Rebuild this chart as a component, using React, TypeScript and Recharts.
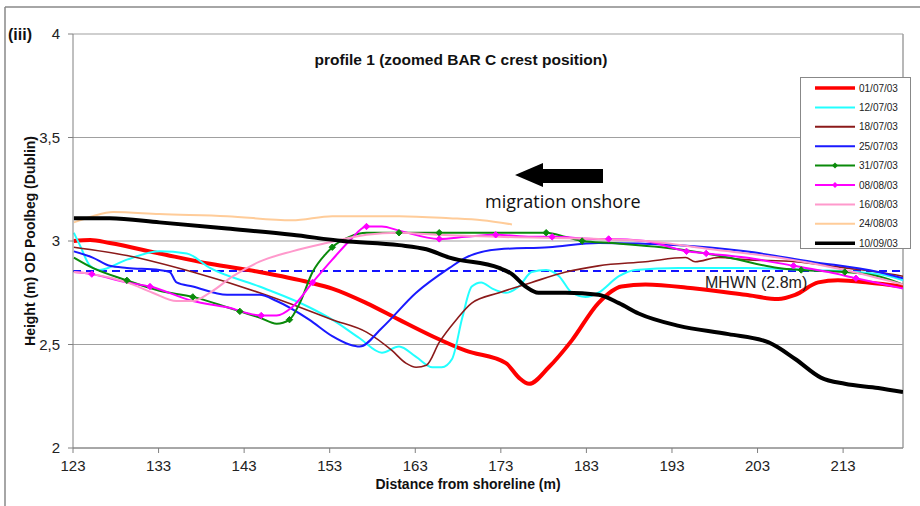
import React from 'react';
import { LineChart, Line, XAxis, YAxis, CartesianGrid, ReferenceLine } from 'recharts';

type P = [number, number, number?];

const xTicks = [123, 133, 143, 153, 163, 173, 183, 193, 203, 213];
const yTicks = [2, 2.5, 3, 3.5, 4];
const mhwnLevel = 2.855;

const s0107: P[] = [
  [123.1, 3.0], [125, 3.005], [127.3, 2.99], [133.1, 2.94], [139, 2.89], [144.8, 2.85], [150.6, 2.8],
  [153.3, 2.77], [157.3, 2.7], [161.1, 2.62], [165, 2.54], [168.9, 2.47], [173.6, 2.41], [175.1, 2.34],
  [176.3, 2.31], [178.6, 2.39], [181.3, 2.52], [184.4, 2.7], [187.1, 2.78], [189.9, 2.79], [195.7, 2.77],
  [201.6, 2.74], [205.4, 2.72], [207.4, 2.74], [210.1, 2.8], [212.4, 2.81], [215.9, 2.8], [220, 2.78],
];
const s1207: P[] = [
  [123.1, 3.04], [123.8, 2.98], [125, 2.88], [126.1, 2.86], [129.3, 2.91], [133.1, 2.95], [136.3, 2.94],
  [139, 2.87], [144.8, 2.78], [150.6, 2.68], [153.3, 2.62], [156.5, 2.53], [159.1, 2.46], [161.1, 2.49],
  [163.1, 2.44], [165, 2.39], [166.1, 2.39], [167.3, 2.43], [168.5, 2.63], [169.6, 2.78], [170.7, 2.8],
  [172, 2.77], [173.6, 2.75], [175.1, 2.78], [176.6, 2.85], [178.3, 2.86], [179.8, 2.83], [181.3, 2.75],
  [182.9, 2.73], [184.4, 2.75], [186.8, 2.83], [188.7, 2.86], [193.8, 2.87], [201.6, 2.87], [209.3, 2.86],
  [217.1, 2.84], [220, 2.81],
];
const s1807: P[] = [
  [123.1, 2.97], [129.3, 2.93], [137, 2.85], [144.8, 2.75], [149.5, 2.68], [153.3, 2.62], [157.3, 2.56],
  [160.3, 2.47], [161.9, 2.41], [163.1, 2.39], [164.3, 2.4], [165.8, 2.51], [167.8, 2.62], [169.6, 2.7],
  [172.8, 2.75], [176.6, 2.8], [180.6, 2.85], [184.4, 2.88], [189.9, 2.9], [194.6, 2.92], [195.7, 2.9],
  [198.4, 2.92], [201.6, 2.91], [207.4, 2.9], [213.2, 2.87], [217.1, 2.85], [220, 2.83],
];
const s2507: P[] = [
  [123.1, 2.95], [125.3, 2.92], [127.3, 2.88], [129.3, 2.87], [133.1, 2.86], [134.3, 2.85], [135.1, 2.8],
  [137, 2.78], [141, 2.74], [144.8, 2.74], [146.8, 2.71], [150.6, 2.62], [153.3, 2.54], [155.3, 2.5],
  [156.5, 2.49], [159.1, 2.58], [163.1, 2.75], [167, 2.87], [168.9, 2.92], [172.8, 2.96], [178.6, 2.97],
  [184.4, 2.99], [193.8, 2.98], [201.6, 2.95], [209.3, 2.9], [217.1, 2.85], [220, 2.82],
];
const s3107: P[] = [
  [123.1, 2.92], [125.3, 2.87], [129.3, 2.81, 1], [133.1, 2.76], [137, 2.73, 1], [141, 2.68], [142.5, 2.66, 1],
  [144.8, 2.63], [146.8, 2.6], [148.3, 2.62, 1], [149.5, 2.7], [151, 2.85], [152.6, 2.94], [153.3, 2.97, 1],
  [155.3, 3.02], [157.3, 3.04], [161.1, 3.04, 1], [165.8, 3.04, 1], [172.8, 3.04], [178.3, 3.04, 1],
  [180.6, 3.02], [182.5, 3.0, 1], [186, 2.99], [193.8, 2.96], [199.6, 2.92], [205.4, 2.87], [208.1, 2.86, 1],
  [213.2, 2.85, 1], [217.1, 2.83], [220, 2.79],
];
const s0808: P[] = [
  [123.1, 2.85], [125.2, 2.84, 1], [129.3, 2.8], [132, 2.78, 1], [137, 2.71], [141, 2.68], [145, 2.64, 1],
  [146.8, 2.64], [148.6, 2.68], [151, 2.8, 1], [153.3, 2.91], [155.3, 3.0], [157.3, 3.07, 1], [159.1, 3.07],
  [161.1, 3.05], [165.8, 3.01, 1], [168.9, 3.02], [172.4, 3.03, 1], [176.6, 3.02], [179, 3.02, 1],
  [184.4, 3.01], [185.6, 3.01, 1], [189.9, 3.0], [194.7, 2.95, 1], [197, 2.94, 1], [201.6, 2.92],
  [207.2, 2.88, 1], [211.3, 2.85], [214.5, 2.82, 1], [220, 2.77],
];
const s1608: P[] = [
  [123.1, 2.85], [125.3, 2.84], [129.3, 2.8], [132.3, 2.75], [135.1, 2.71], [137, 2.71], [139, 2.75],
  [141.7, 2.83], [144.8, 2.9], [148.6, 2.95], [152.6, 2.99], [157.3, 3.03], [161.1, 3.04], [165.8, 3.03],
  [172.8, 3.02], [184.4, 3.01], [189.9, 3.0], [197.6, 2.96], [205.4, 2.92], [213.2, 2.86], [220, 2.79],
];
const s2408: P[] = [
  [123.1, 3.09], [125.3, 3.12], [127.7, 3.14], [133.1, 3.13], [141, 3.12], [148.6, 3.1], [153.3, 3.12],
  [157.3, 3.12], [161.1, 3.12], [167, 3.11], [170.8, 3.1], [174.3, 3.08],
];
const s1009: P[] = [
  [123.1, 3.11], [127.3, 3.11], [133.1, 3.09], [141, 3.06], [148.6, 3.03], [154.5, 3.0], [161.1, 2.98],
  [164.3, 2.96], [167, 2.92], [172.8, 2.87], [174.3, 2.84], [175.9, 2.78], [177.4, 2.75], [180.6, 2.75],
  [184.4, 2.74], [186.8, 2.7], [189.1, 2.65], [193.8, 2.59], [199.6, 2.55], [204.3, 2.51], [207.4, 2.43],
  [210.4, 2.34], [213.2, 2.31], [217.1, 2.29], [220, 2.27],
];

const seriesNames = ['01/07/03', '12/07/03', '18/07/03', '25/07/03', '31/07/03', '08/08/03', '16/08/03', '24/08/03', '10/09/03'];
const seriesData = [s0107, s1207, s1807, s2507, s3107, s0808, s1608, s2408, s1009];
const seriesColors = ['#ff0000', '#22ffff', '#8b1a1a', '#1a1aff', '#0a8a0a', '#ff00ff', '#ff99cc', '#ffcc99', '#000000'];
const seriesWidths = [4, 2, 1.6, 2, 2, 2, 2, 2, 4];
const seriesMarkers = [false, false, false, false, true, true, false, false, false];

const FONT = '"Liberation Sans", Arial, sans-serif';

const toRows = (pts: P[]) => pts.map(([x, y, m]) => ({ x, y, m: !!m }));

const makeDot = (color: string) => (props: any) => {
  const { cx, cy, payload, index } = props;
  if (!payload || !payload.m || cx == null || cy == null) return <g key={`d${index}`} />;
  const r = 3.2;
  return (
    <path
      key={`d${index}`}
      d={`M${cx},${cy - r} L${cx + r},${cy} L${cx},${cy + r} L${cx - r},${cy} Z`}
      fill={color}
      stroke={color}
    />
  );
};

const fmtY = (v: number) => String(v).replace('.', ',');

export default function App() {
  return (
    <div style={{ position: 'absolute', left: 0, top: 0, width: 920, height: 506, background: '#fff' }}>
      <LineChart width={920} height={506} margin={{ top: 34, right: 17, left: 0, bottom: 28 }}>
        <CartesianGrid vertical={false} stroke="#a0a0a0" strokeWidth={1.2} />
        <XAxis
          dataKey="x"
          type="number"
          domain={[123, 220]}
          ticks={xTicks}
          interval={0}
          allowDataOverflow
          height={30}
          stroke="#808080"
          tickSize={5}
          tickMargin={7}
          tick={{ fill: '#222', fontSize: 15, fontFamily: FONT }}
        />
        <YAxis
          type="number"
          domain={[2, 4]}
          ticks={yTicks}
          interval={0}
          width={73}
          stroke="#808080"
          tickSize={5}
          tickMargin={8}
          tickFormatter={fmtY}
          tick={{ fill: '#222', fontSize: 15, fontFamily: FONT }}
        />
        <ReferenceLine x={220} stroke="#a0a0a0" strokeWidth={1.5} ifOverflow="extendDomain" />
        <ReferenceLine y={mhwnLevel} stroke="#1414ff" strokeWidth={2} strokeDasharray="8 5" />
        {seriesNames.map((name, i) => (
          <Line
            key={name}
            name={name}
            data={toRows(seriesData[i])}
            dataKey="y"
            type="monotone"
            stroke={seriesColors[i]}
            strokeWidth={seriesWidths[i]}
            dot={seriesMarkers[i] ? makeDot(seriesColors[i]) : false}
            activeDot={false}
            isAnimationActive={false}
          />
        ))}
      </LineChart>

      <svg
        width={920}
        height={506}
        style={{ position: 'absolute', left: 0, top: 0, pointerEvents: 'none' }}
      >
        <line x1={5} y1={7} x2={920} y2={7} stroke="#888" strokeWidth={1.5} />
        <line x1={5} y1={7} x2={5} y2={506} stroke="#888" strokeWidth={1.5} />
        <text x={8} y={40} fontFamily={FONT} fontWeight="bold" fontSize={16} fill="#111">(iii)</text>
        <text x={461} y={65} textAnchor="middle" fontFamily={FONT} fontWeight="bold" fontSize={15.5} fill="#111">
          profile 1 (zoomed BAR C crest position)
        </text>
        <polygon points="515,175 543,163 543,169 603,169 603,183 543,183 543,187" fill="#000" />
        <text x={485} y={208} fontFamily='"Open Sans", "Noto Sans", sans-serif' fontSize={18} fill="#111">
          migration onshore
        </text>
        <text x={705} y={288} fontFamily={FONT} fontSize={16} fill="#222">MHWN (2.8m)</text>
        <text x={468} y={489} textAnchor="middle" fontFamily={FONT} fontWeight="bold" fontSize={14} fill="#111">
          Distance from shoreline (m)
        </text>
        <text
          x={35}
          y={241}
          textAnchor="middle"
          transform="rotate(-90 35 241)"
          fontFamily={FONT}
          fontWeight="bold"
          fontSize={14}
          fill="#111"
        >
          Height (m) OD Poolbeg (Dublin)
        </text>
      </svg>

      <div
        style={{
          position: 'absolute',
          left: 800,
          top: 77,
          width: 111,
          height: 172,
          border: '1px solid #888',
          background: '#fff',
          boxSizing: 'border-box',
        }}
      >
        <svg width={111} height={172}>
          {seriesNames.map((name, i) => {
            const cy = 10 + i * 19.4;
            return (
              <g key={name}>
                <line x1={14} y1={cy} x2={54} y2={cy} stroke={seriesColors[i]} strokeWidth={seriesWidths[i] === 4 ? 3.5 : 2} />
                {seriesMarkers[i] && (
                  <path d={`M34,${cy - 3} L37,${cy} L34,${cy + 3} L31,${cy} Z`} fill={seriesColors[i]} />
                )}
                <text x={58} y={cy + 3.6} fontFamily={FONT} fontSize={10} fill="#222">{name}</text>
              </g>
            );
          })}
        </svg>
      </div>
    </div>
  );
}
